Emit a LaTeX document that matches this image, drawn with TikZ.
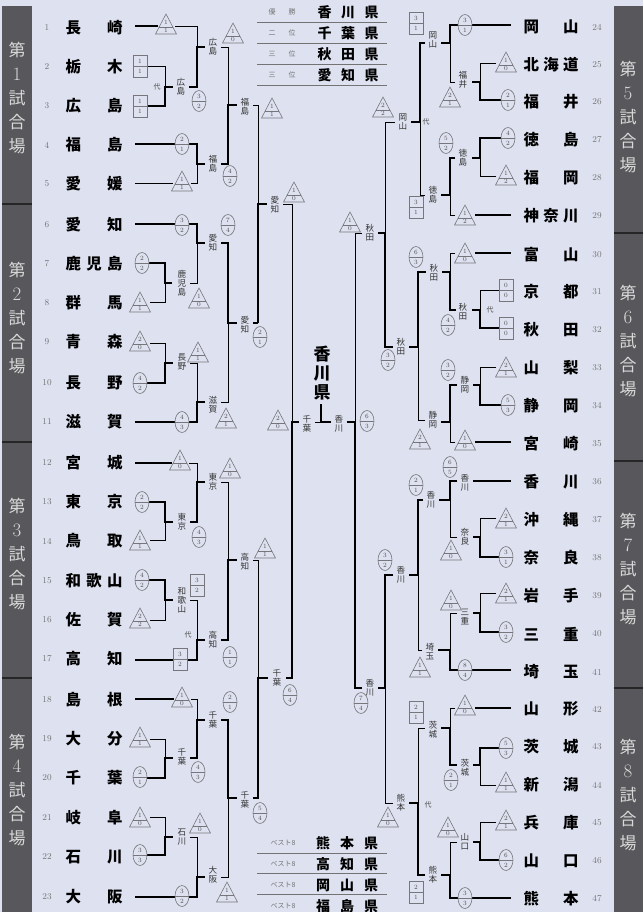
\documentclass[tikz,border=0pt]{standalone}
\usepackage{fontspec}
\newfontfamily\jp{Noto Sans CJK JP}
\definecolor{bg}{RGB}{222,226,240}
\definecolor{ban}{RGB}{88,88,92}
\definecolor{thin}{RGB}{118,118,124}
\tikzset{
 win/.style={line width=2.8bp,black},
 lose/.style={line width=0.65bp,thin},
 sym/.style={line width=0.6bp,draw=thin,fill=bg},
 symline/.style={line width=0.5bp,draw=thin},
 dig/.style={font=\fontsize{6.5}{6.5}\selectfont,text=black!70,inner sep=0pt},
 lab/.style={font=\jp\fontsize{8.6}{9}\selectfont,align=center,inner sep=0.3bp,text=black!80},
 dai/.style={font=\jp\fontsize{7}{7}\selectfont,inner sep=0pt,text=black!70},
 nm/.style={font=\jp\bfseries\fontsize{15.5}{15.5}\selectfont,inner sep=0pt},
 num/.style={font=\fontsize{9}{9}\selectfont,text=black!55,inner sep=0pt},
 bt/.style={font=\jp\fontsize{17}{17}\selectfont,text=black!15,inner sep=0pt},
 bd/.style={font=\fontsize{19}{19}\selectfont,text=black!15,inner sep=0pt},
 tsm/.style={font=\jp\fontsize{7}{7}\selectfont,text=black!55,inner sep=0pt},
 tbig/.style={font=\jp\bfseries\fontsize{14}{14}\selectfont,inner sep=0pt},
 tline/.style={line width=0.8bp,draw=black!55}
}
\newcounter{sy}
\newcommand\TRI[4]{\stepcounter{sy}%
 \draw[sym] (#1-10.5,#2+10)--(#1,#2-10)--(#1+10.5,#2+10)--cycle;
 \draw[symline] (#1-6.8,#2+3)--(#1+6.8,#2+3);
 \node[dig] (s\arabic{sy}a) at (#1,#2-1.2) {#3};
 \node[dig] (s\arabic{sy}b) at (#1,#2+6.8) {#4};}
\newcommand\ELL[4]{\stepcounter{sy}%
 \draw[sym] (#1,#2) ellipse (7 and 10.5);
 \draw[symline] (#1-7,#2)--(#1+7,#2);
 \node[dig] (s\arabic{sy}a) at (#1,#2-4.8) {#3};
 \node[dig] (s\arabic{sy}b) at (#1,#2+5) {#4};}
\newcommand\SQ[4]{\stepcounter{sy}%
 \draw[sym] (#1-7,#2-11) rectangle (#1+7,#2+11);
 \draw[symline] (#1-7,#2)--(#1+7,#2);
 \node[dig] (s\arabic{sy}a) at (#1,#2-5) {#3};
 \node[dig] (s\arabic{sy}b) at (#1,#2+5.5) {#4};}
\newcounter{lb}
\newcommand\LB[3]{\stepcounter{lb}\node[lab] (lb\arabic{lb}) at (#1,#2) {#3};}
\newcommand\NL[3]{\node[num] (nn#1) at (47,#2) {#1};
 \node[nm] (na#1) at (94,#2) {\makebox[57bp]{#3}};}
\newcommand\NR[3]{\node[num] (nn#1) at (597,#2) {#1};
 \node[nm] (na#1) at (551,#2) {\makebox[55bp]{#3}};}
\begin{document}
\begin{tikzpicture}[x=1bp,y=-1bp]
\useasboundingbox (0,0) rectangle (643,912);
\fill[bg] (0,0) rectangle (643,912);
% banners
\fill[ban] (2,6) rectangle (32,912);
\fill[ban] (614,6) rectangle (643,912);
\foreach \yy in {204,442,678} \draw[line width=1.6bp,black!85] (2,\yy)--(32,\yy);
\foreach \yy in {233,461,688} \draw[line width=1.6bp,black!85] (614,\yy)--(643,\yy);
\foreach \c/\d/\x/\n in {98/1/17/a,318/2/17/b,554/3/17/c,790/4/17/d,117/5/628/e,341/6/628/f,569/7/628/g,795/8/628/h}{
 \node[bt] (b\n1) at (\x,\c-48) {第};
 \node[bd] (b\n2) at (\x,\c-24) {\d};
 \node[bt] (b\n3) at (\x,\c) {試};
 \node[bt] (b\n4) at (\x,\c+24) {合};
 \node[bt] (b\n5) at (\x,\c+48) {場};
}
% top table
\foreach \yy in {22,43,64,85} \draw[tline] (257,\yy)--(387,\yy);
\foreach \yy/\a/\b/\t/\n in {12/優/勝/香\hfill 川\hfill 県/1,33/二/位/千\hfill 葉\hfill 県/2,54/三/位/秋\hfill 田\hfill 県/3,75/三/位/愛\hfill 知\hfill 県/4}{
 \node[tsm] (ta\n) at (272,\yy) {\a};
 \node[tsm] (tb\n) at (292,\yy) {\b};
 \node[tbig] (tc\n) at (348,\yy) {\makebox[61bp]{\t}};
}
% bottom table
\foreach \yy in {853,873,894} \draw[tline] (257,\yy)--(387,\yy);
\foreach \yy/\t/\n in {843/熊\hfill 本\hfill 県/1,864/高\hfill 知\hfill 県/2,885/岡\hfill 山\hfill 県/3,906/福\hfill 島\hfill 県/4}{
 \node[tsm] (ba\n) at (283,\yy) {ベスト8};
 \node[tbig] (bc\n) at (347,\yy) {\makebox[62bp]{\t}};
}
% names left
\NL{1}{28}{長\hfill 崎}
\NL{2}{67}{栃\hfill 木}
\NL{3}{106}{広\hfill 島}
\NL{4}{145}{福\hfill 島}
\NL{5}{184}{愛\hfill 媛}
\NL{6}{225}{愛\hfill 知}
\NL{7}{264}{鹿\hfill 児\hfill 島}
\NL{8}{303}{群\hfill 馬}
\NL{9}{342}{青\hfill 森}
\NL{10}{383}{長\hfill 野}
\NL{11}{422}{滋\hfill 賀}
\NL{12}{463}{宮\hfill 城}
\NL{13}{502}{東\hfill 京}
\NL{14}{541}{鳥\hfill 取}
\NL{15}{581}{和\hfill 歌\hfill 山}
\NL{16}{620}{佐\hfill 賀}
\NL{17}{659}{高\hfill 知}
\NL{18}{700}{島\hfill 根}
\NL{19}{739}{大\hfill 分}
\NL{20}{778}{千\hfill 葉}
\NL{21}{818}{岐\hfill 阜}
\NL{22}{857}{石\hfill 川}
\NL{23}{897}{大\hfill 阪}
% names right
\NR{24}{27}{岡\hfill 山}
\NR{25}{65}{北\hfill 海\hfill 道}
\NR{26}{102}{福\hfill 井}
\NR{27}{140}{徳\hfill 島}
\NR{28}{178}{福\hfill 岡}
\NR{29}{216}{神\hfill 奈\hfill 川}
\NR{30}{255}{富\hfill 山}
\NR{31}{292}{京\hfill 都}
\NR{32}{330}{秋\hfill 田}
\NR{33}{368}{山\hfill 梨}
\NR{34}{406}{静\hfill 岡}
\NR{35}{444}{宮\hfill 崎}
\NR{36}{482}{香\hfill 川}
\NR{37}{520}{沖\hfill 縄}
\NR{38}{558}{奈\hfill 良}
\NR{39}{596}{岩\hfill 手}
\NR{40}{634}{三\hfill 重}
\NR{41}{672}{埼\hfill 玉}
\NR{42}{709}{山\hfill 形}
\NR{43}{747}{茨\hfill 城}
\NR{44}{785}{新\hfill 潟}
\NR{45}{823}{兵\hfill 庫}
\NR{46}{861}{山\hfill 口}
\NR{47}{899}{熊\hfill 本}
% ---------- lines left ----------
\draw[win] (135,26)--(158,26);
\draw[lose] (175,26)--(197,26)--(197,47);
\draw[lose] (147,66)--(165,66)--(165,87);
\draw[win] (147,106)--(165,106)--(165,87)--(173,87);
\draw[win] (189,87)--(197,87)--(197,47)--(205,47);
\draw[lose] (221,47)--(228,47)--(228,105);
\draw[win] (135,144)--(175,144);
\draw[win] (189,144)--(197,144)--(197,164)--(205,164);
\draw[lose] (135,183)--(173,183);
\draw[lose] (191,183)--(197,183)--(197,164);
\draw[win] (221,164)--(228,164)--(228,105)--(237,105);
\draw[lose] (253,105)--(258,105)--(258,204);
\draw[win] (258,323)--(258,204)--(267,204);
\draw[lose] (283,204)--(292,204)--(292,422);
\draw[win] (135,224)--(175,224);
\draw[win] (189,224)--(197,224)--(197,243)--(205,243);
\draw[win] (149,263)--(165,263)--(165,283)--(172,283);
\draw[lose] (150,302)--(165,302)--(165,283);
\draw[lose] (190,283)--(197,283)--(197,243);
\draw[win] (221,243)--(228,243)--(228,323)--(237,323);
\draw[win] (253,323)--(258,323);
\draw[lose] (150,343)--(165,343)--(165,363);
\draw[win] (147,383)--(165,383)--(165,363)--(173,363);
\draw[lose] (190,363)--(197,363)--(197,402);
\draw[win] (135,422)--(175,422);
\draw[win] (189,422)--(197,422)--(197,402)--(205,402);
\draw[lose] (221,402)--(228,402)--(228,323);
\draw[win] (135,463)--(172,463);
\draw[lose] (189,463)--(197,463)--(197,482);
\draw[win] (149,502)--(165,502)--(165,522)--(173,522);
\draw[lose] (150,540)--(165,540)--(165,522);
\draw[win] (190,522)--(197,522)--(197,482)--(205,482);
\draw[lose] (221,482)--(228,482)--(228,560);
\draw[lose] (253,560)--(258,560)--(258,678);
\draw[win] (149,580)--(165,580)--(165,600)--(173,600);
\draw[lose] (150,620)--(165,620)--(165,600);
\draw[lose] (190,600)--(197,600)--(197,640);
\draw[win] (135,660)--(173,660);
\draw[win] (187,660)--(197,660)--(197,640)--(205,640);
\draw[win] (221,640)--(228,640)--(228,560)--(237,560);
\draw[win] (253,798)--(258,798)--(258,678)--(268,678);
\draw[win] (286,678)--(292,678)--(292,422)--(299,422);
\draw[win] (135,699)--(174,699);
\draw[lose] (191,699)--(197,699)--(197,720);
\draw[lose] (150,739)--(165,739)--(165,758);
\draw[win] (147,778)--(165,778)--(165,758)--(173,758);
\draw[win] (190,758)--(197,758)--(197,720)--(205,720);
\draw[win] (221,720)--(228,720)--(228,798)--(237,798);
\draw[lose] (150,817)--(165,817)--(165,837);
\draw[win] (147,855)--(165,855)--(165,837)--(173,837);
\draw[lose] (190,837)--(197,837)--(197,877);
\draw[win] (135,897)--(175,897);
\draw[win] (189,897)--(197,897)--(197,877)--(205,877);
\draw[lose] (221,877)--(228,877)--(228,798);
% ---------- center ----------
\draw[lose] (315,422)--(321,422);
\draw[win] (321,404)--(321,422)--(331,422);
\draw[win] (347,422)--(355,422)--(355,688)--(362,688);
\draw[lose] (355,422)--(355,233)--(362,233);
\node[font=\jp\bfseries\fontsize{17}{19}\selectfont,align=center,inner sep=0pt] (champ) at (322,373) {香\\川\\県};
% ---------- lines right ----------
\draw[win] (378,233)--(385,233)--(385,347)--(393,347);
\draw[lose] (385,233)--(385,122)--(395,122);
\draw[win] (411,122)--(420,122)--(420,43)--(425,43);
\draw[lose] (420,122)--(420,195)--(425,195);
\draw[win] (511,25)--(472,25);
\draw[win] (458,25)--(450,25)--(450,43)--(441,43);
\draw[lose] (450,43)--(450,82)--(455,82);
\draw[lose] (496,63)--(480,63)--(480,82);
\draw[win] (501,100)--(480,100)--(480,82)--(472,82);
\draw[win] (501,138)--(480,138)--(480,158)--(472,158);
\draw[lose] (496,176)--(480,176)--(480,158);
\draw[win] (455,158)--(450,158)--(450,195)--(441,195);
\draw[win] (511,215)--(475,215);
\draw[lose] (455,215)--(450,215)--(450,195);
\draw[win] (409,347)--(418,347)--(418,272)--(426,272);
\draw[lose] (418,347)--(418,420)--(425,420);
\draw[win] (442,272)--(450,272)--(450,310)--(456,310);
\draw[lose] (450,272)--(450,253)--(455,253);
\draw[win] (511,253)--(475,253);
\draw[lose] (499,290)--(480,290)--(480,310);
\draw[win] (499,328)--(480,328)--(480,310)--(472,310);
\draw[lose] (496,367)--(480,367)--(480,385);
\draw[win] (501,405)--(480,405)--(480,385)--(473,385);
\draw[win] (457,385)--(450,385)--(450,422)--(441,422);
\draw[win] (511,442)--(475,442);
\draw[lose] (455,442)--(450,442)--(450,422);
\draw[win] (511,481)--(473,481);
\draw[win] (457,481)--(450,481)--(450,500)--(439,500);
\draw[lose] (496,518)--(480,518)--(480,537);
\draw[win] (499,557)--(480,557)--(480,537)--(473,537);
\draw[lose] (457,537)--(450,537)--(450,500);
\draw[win] (423,500)--(418,500)--(418,575)--(409,575);
\draw[win] (393,575)--(385,575)--(385,688)--(378,688);
\draw[lose] (418,575)--(418,650)--(422,650);
\draw[lose] (496,593)--(480,593)--(480,613);
\draw[win] (499,632)--(480,632)--(480,613)--(473,613);
\draw[lose] (457,613)--(450,613)--(450,650);
\draw[win] (511,670)--(472,670);
\draw[win] (458,670)--(450,670)--(450,650)--(438,650);
\draw[lose] (385,688)--(385,803)--(393,803);
\draw[win] (409,803)--(418,803)--(418,875)--(425,875);
\draw[lose] (418,803)--(418,728)--(425,728);
\draw[win] (441,728)--(450,728)--(450,765)--(457,765);
\draw[lose] (450,728)--(450,708)--(455,708);
\draw[win] (511,708)--(475,708);
\draw[win] (499,748)--(480,748)--(480,765)--(473,765);
\draw[lose] (496,785)--(480,785)--(480,765);
\draw[lose] (496,822)--(480,822)--(480,842);
\draw[win] (499,860)--(480,860)--(480,842)--(473,842);
\draw[lose] (457,842)--(450,842)--(450,875);
\draw[win] (441,875)--(450,875)--(450,898)--(458,898);
\draw[win] (472,898)--(511,898);
% ---------- labels ----------
\LB{181}{87}{広\\島}
\LB{213}{47}{広\\島}
\LB{213}{164}{福\\島}
\LB{245}{107}{福\\島}
\LB{275}{205}{愛\\知}
\LB{213}{243}{愛\\知}
\LB{182}{283}{鹿\\児\\島}
\LB{245}{325}{愛\\知}
\LB{182}{362}{長\\野}
\LB{213}{405}{滋\\賀}
\LB{182}{522}{東\\京}
\LB{213}{482}{東\\京}
\LB{245}{562}{高\\知}
\LB{182}{600}{和\\歌\\山}
\LB{213}{640}{高\\知}
\LB{277}{678}{千\\葉}
\LB{213}{720}{千\\葉}
\LB{182}{757}{千\\葉}
\LB{245}{800}{千\\葉}
\LB{182}{837}{石\\川}
\LB{213}{875}{大\\阪}
\LB{307}{424}{千\\葉}
\LB{339}{424}{香\\川}
\LB{370}{233}{秋\\田}
\LB{403}{122}{岡\\山}
\LB{433}{40}{岡\\山}
\LB{463}{80}{福\\井}
\LB{463}{158}{徳\\島}
\LB{433}{195}{徳\\島}
\LB{401}{347}{秋\\田}
\LB{434}{273}{秋\\田}
\LB{463}{312}{秋\\田}
\LB{465}{385}{静\\岡}
\LB{433}{420}{静\\岡}
\LB{465}{483}{香\\川}
\LB{465}{537}{奈\\良}
\LB{431}{500}{香\\川}
\LB{401}{575}{香\\川}
\LB{430}{652}{埼\\玉}
\LB{465}{617}{三\\重}
\LB{370}{688}{香\\川}
\LB{401}{803}{熊\\本}
\LB{433}{730}{茨\\城}
\LB{433}{875}{熊\\本}
\LB{465}{768}{茨\\城}
\LB{465}{842}{山\\口}
\node[dai] (d1) at (157,87) {代};
\node[dai] (d2) at (188,635) {代};
\node[dai] (d3) at (426,122) {代};
\node[dai] (d4) at (490,310) {代};
\node[dai] (d5) at (428,805) {代};
% ---------- score symbols ----------
\TRI{166}{24}{1}{1}
\SQ{140}{66}{1}{1}
\SQ{140}{106}{1}{1}
\ELL{199}{101}{3}{2}
\TRI{233}{33}{1}{0}
\ELL{182}{144}{2}{1}
\TRI{182}{181}{1}{1}
\ELL{230}{176}{4}{2}
\TRI{272}{108}{1}{1}
\TRI{294}{192}{1}{0}
\ELL{182}{225}{3}{2}
\ELL{228}{225}{7}{4}
\ELL{142}{263}{2}{2}
\TRI{140}{302}{1}{1}
\TRI{199}{298}{1}{0}
\ELL{260}{337}{2}{1}
\TRI{140}{341}{2}{0}
\ELL{140}{383}{4}{2}
\TRI{198}{352}{1}{1}
\ELL{182}{422}{4}{3}
\TRI{226}{418}{2}{1}
\TRI{180}{460}{1}{0}
\ELL{142}{502}{2}{2}
\TRI{140}{540}{1}{1}
\ELL{199}{537}{4}{3}
\TRI{230}{468}{1}{0}
\TRI{265}{548}{1}{1}
\ELL{142}{580}{4}{2}
\TRI{140}{618}{2}{2}
\SQ{197}{585}{3}{2}
\SQ{180}{659}{3}{2}
\ELL{230}{657}{1}{1}
\ELL{290}{695}{6}{4}
\TRI{182}{697}{1}{0}
\ELL{230}{702}{2}{1}
\TRI{140}{737}{1}{1}
\ELL{140}{777}{2}{1}
\ELL{198}{772}{4}{3}
\ELL{260}{813}{5}{4}
\TRI{140}{817}{1}{0}
\ELL{140}{855}{3}{3}
\TRI{200}{823}{1}{0}
\ELL{182}{896}{3}{2}
\TRI{227}{892}{1}{1}
\TRI{278}{420}{2}{0}
\ELL{367}{421}{6}{3}
\TRI{350}{222}{1}{0}
\TRI{383}{107}{2}{2}
\SQ{416}{23}{3}{1}
\SQ{416}{207}{3}{1}
\ELL{465}{25}{3}{1}
\TRI{450}{97}{2}{1}
\TRI{506}{62}{1}{0}
\ELL{508}{100}{2}{1}
\ELL{508}{138}{4}{2}
\TRI{506}{175}{1}{2}
\ELL{446}{143}{5}{2}
\TRI{465}{215}{1}{2}
\ELL{388}{360}{3}{2}
\ELL{416}{257}{6}{3}
\TRI{465}{253}{1}{0}
\ELL{448}{325}{4}{2}
\SQ{506}{290}{0}{0}
\SQ{506}{328}{0}{0}
\TRI{506}{367}{2}{1}
\ELL{508}{405}{5}{3}
\ELL{448}{370}{3}{2}
\TRI{420}{439}{2}{1}
\TRI{465}{440}{1}{0}
\ELL{450}{467}{6}{5}
\TRI{506}{518}{2}{1}
\ELL{506}{557}{3}{1}
\TRI{451}{550}{1}{0}
\ELL{416}{485}{2}{1}
\ELL{385}{560}{3}{2}
\TRI{420}{667}{1}{1}
\TRI{506}{593}{2}{1}
\ELL{506}{632}{3}{2}
\TRI{451}{600}{1}{0}
\ELL{465}{670}{8}{4}
\ELL{361}{703}{7}{4}
\TRI{388}{817}{1}{0}
\SQ{416}{712}{2}{1}
\SQ{416}{892}{2}{1}
\TRI{465}{705}{1}{0}
\ELL{451}{780}{2}{1}
\ELL{506}{748}{5}{3}
\TRI{506}{782}{1}{1}
\TRI{506}{820}{2}{1}
\ELL{506}{860}{6}{2}
\TRI{448}{827}{1}{0}
\ELL{465}{898}{3}{3}
\end{tikzpicture}
\end{document}
